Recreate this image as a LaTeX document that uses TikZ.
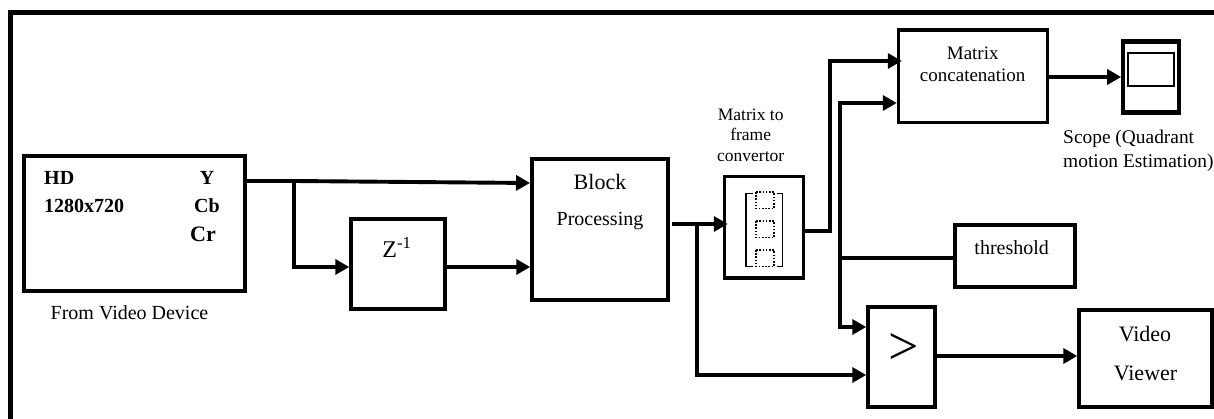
\documentclass[tikz,border=0pt]{standalone}
\usepackage{fontspec}
\setmainfont{Liberation Serif}
\usepackage{tikz}
\usetikzlibrary{arrows.meta}
\tikzset{
    blockbox/.style={draw, line width=3.5pt, inner sep=0pt},
    wire/.style={line width=3.9pt, line join=miter},
    lbl/.style={inner sep=0pt, font=\fontsize{20}{20}\selectfont},
    boldlbl/.style={lbl, font=\fontsize{20}{20}\selectfont\bfseries}
}
\newcommand{\fsize}[1]{\fontsize{#1}{#1}\selectfont}

\begin{document}
\begin{tikzpicture}[x=1pt, y=-1pt, >={Triangle[length=14pt,width=15pt]}]
    \useasboundingbox (0,0) rectangle (1214,419);

    % Draw outer frame
    \draw[line width=5.5pt] (10.5,419) -- (10.5,12.5) -- (1214,12.5);

    % Draw blocks
    \node[blockbox, minimum width=221pt, minimum height=135pt] (device) at (134.5,223.5) {};
    \node[blockbox, minimum width=94pt, minimum height=90pt] (delay) at (398,264) {};
    \node[blockbox, minimum width=136pt, minimum height=141pt] (block) at (600,229.5) {};
    \node[blockbox, minimum width=79pt, minimum height=101.5pt] (convert) at (764,227.5) {};
    \node[blockbox, minimum width=149pt, minimum height=92.5pt] (concat) at (973,76.5) {};
    \node[blockbox, line width=4.2pt, minimum width=55.5pt, minimum height=71pt] (scope) at (1151,77) {};
    \node[blockbox, minimum width=120pt, minimum height=62pt] (thresh) at (1015,256) {};
    \node[blockbox, minimum width=67pt, minimum height=100pt] (compare) at (901.5,357) {};
    \node[blockbox, minimum width=133pt, minimum height=97pt] (viewer) at (1145.5,358.5) {};

    % Scope screen
    \node[draw, line width=2pt, minimum width=46pt, minimum height=33.5pt, inner sep=0pt] (screen) at (1150.5,69.3) {};

    % Film strip inside convertor
    \draw[line width=1.4pt] (753,193.5) -- (746,193.5) -- (746,266.5) -- (753,266.5);
    \draw[line width=1.4pt] (776.5,193.5) -- (782.5,193.5) -- (782.5,266.5) -- (776.5,266.5);
    \foreach \y in {192,221,250} {
        \draw[line width=1.6pt, dash pattern=on 1.6pt off 1.6pt] (756,\y) rectangle (774,\y+16.5);
    }

    % Block labels
    \node[boldlbl, anchor=west] (hd) at (44,178) {HD};
    \node[boldlbl, anchor=west] (size) at (44,206) {1280x720};
    \node[boldlbl] (yname) at (207,178) {Y};
    \node[boldlbl] (cbname) at (207,206) {Cb};
    \node[boldlbl, font=\fsize{22}\bfseries] (crname) at (203,234) {Cr};
    \node[lbl] (devname) at (129.5,313) {From Video Device};
    \node[lbl, font=\fsize{24}] (zname) at (397,247) {Z\textsuperscript{-1}};
    \node[lbl, font=\fsize{22}] (blockname) at (600,182) {Block};
    \node[lbl] (procname) at (600,221) {Processing};
    \node[lbl, font=\fsize{17.5}, align=center] (convname) at (750.7,135) {Matrix to\\[3pt]frame\\[3pt]convertor};
    \node[lbl, font=\fsize{19}, align=center] (concname) at (972.7,64) {Matrix\\[3pt]concatenation};
    \node[lbl, font=\fsize{19.4}, anchor=west, align=left] (scopename) at (1063,150.5) {Scope (Quadrant\\[4.5pt]motion Estimation)};
    \node[lbl] (thrname) at (1011.7,247.5) {threshold};
    \node[lbl, font=\fsize{54}] (gtname) at (904,349) {>};
    \node[lbl, font=\fsize{22}] (vidname) at (1145,334) {Video};
    \node[lbl, font=\fsize{22}] (viewname) at (1145.5,373) {Viewer};

    % Junctions
    \coordinate (yjoin) at (294,181);
    \coordinate (ytop) at (530,183);
    \coordinate (zline) at (294,267);
    \coordinate (outjoin) at (697,224);
    \coordinate (outlow) at (697,375);
    \coordinate (matout) at (830,230.7);
    \coordinate (matup) at (830,61);
    \coordinate (thup) at (840,103);
    \coordinate (thjoin) at (840,258);
    \coordinate (thlow) at (840,327);
    \coordinate (gtout) at (935,356);

    % Draw connectors
    \draw[wire, ->] (device.east |- yjoin) -- (yjoin) -- (ytop);
    \draw[wire, ->] (yjoin) -- (zline) -- (zline -| delay.west);
    \draw[wire, ->] (zline -| delay.east) -- (zline -| block.west);
    \draw[wire, ->] ([xshift=2pt]outjoin -| block.east) -- ([xshift=5pt]outjoin -| convert.west);
    \draw[wire, ->] (outjoin) -- (outlow) -- (outlow -| compare.west);
    \draw[wire, ->] (matout -| convert.east) -- (matout) -- (matup) -- ([xshift=5pt]matup -| concat.west);
    \draw[wire, ->] (thjoin) -- (thup) -- (thup -| concat.west);
    \draw[wire] (thresh.west |- thjoin) -- (thjoin);
    \draw[wire, ->] (thjoin) -- (thlow) -- (thlow -| compare.west);
    \draw[wire, ->] (concat.east |- scope.west) -- (scope.west);
    \draw[wire, ->] (compare.east |- gtout) -- (gtout -| viewer.west);
\end{tikzpicture}
\end{document}
